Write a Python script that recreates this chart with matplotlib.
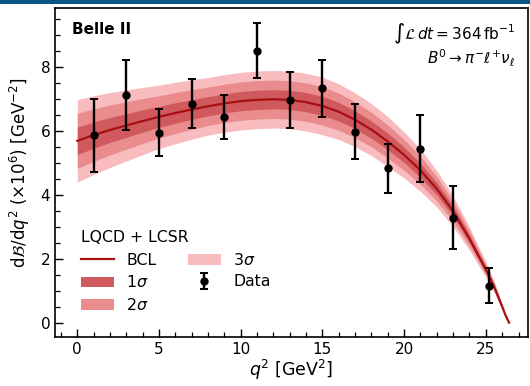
import numpy as np
import matplotlib
matplotlib.use("Agg")
import matplotlib.pyplot as plt
from matplotlib.patches import Rectangle

# measured partial branching fractions, dB/dq^2 in units of 1e-6 GeV^-2
q2_data = [1.0, 3.0, 5.0, 7.0, 9.0, 11.0, 13.0, 15.0, 17.0, 19.0, 21.0, 23.0, 25.2]
dbf_data = [5.85, 7.12, 5.94, 6.84, 6.43, 8.50, 6.96, 7.32, 5.96, 4.82, 5.44, 3.28, 1.16]
dbf_err = [1.15, 1.10, 0.72, 0.76, 0.68, 0.85, 0.88, 0.90, 0.86, 0.77, 1.04, 0.98, 0.54]

# BCL fit (LQCD + LCSR) central value and 1 sigma half width
q2_fit = [0, 1, 2, 3, 4, 5, 6, 7, 8, 9, 10, 11, 12, 13, 14, 15, 16, 17, 18,
          19, 20, 21, 22, 23, 24, 25, 25.5, 26, 26.2, 26.42]
dbf_fit = [5.68, 5.86, 6.02, 6.16, 6.30, 6.43, 6.55, 6.66, 6.76, 6.85, 6.92,
           6.96, 6.98, 6.96, 6.89, 6.77, 6.59, 6.34, 6.03, 5.66, 5.24, 4.76,
           4.18, 3.48, 2.62, 1.66, 1.13, 0.50, 0.24, 0.0]
sig_fit = [0.43, 0.41, 0.39, 0.37, 0.35, 0.33, 0.32, 0.31, 0.30, 0.30, 0.30,
           0.30, 0.30, 0.30, 0.30, 0.30, 0.29, 0.28, 0.27, 0.26, 0.24, 0.22,
           0.19, 0.16, 0.12, 0.08, 0.06, 0.03, 0.015, 0.0]

x = np.array(q2_fit)
y = np.array(dbf_fit)
s = np.array(sig_fit)

fig = plt.figure(figsize=(5.3, 3.86), dpi=100)
ax = fig.add_axes([55 / 530, 49 / 386, 473 / 530, 329 / 386])

# header strip
fig.patches.append(Rectangle((0, 382 / 386), 1, 4 / 386, transform=fig.transFigure,
                             facecolor="#0b5585", edgecolor="none", zorder=0))

b3 = ax.fill_between(x, y - 3 * s, y + 3 * s, color="#f8bcbf", lw=0)
b2 = ax.fill_between(x, y - 2 * s, y + 2 * s, color="#ea8c8e", lw=0)
b1 = ax.fill_between(x, y - s, y + s, color="#d0595d", lw=0)
ln, = ax.plot(x, y, color="#a80f12", lw=1.6)

eb = ax.errorbar(q2_data, dbf_data, yerr=dbf_err, fmt="o", color="black", ms=5,
                 elinewidth=1.7, capsize=3, capthick=1.4)

ax.set_xlim(-1.365, 27.58)
ax.set_ylim(-0.447, 9.83)
ax.set_xticks([0, 5, 10, 15, 20, 25])
ax.set_xticks(np.arange(-1, 28, 1), minor=True)
ax.set_yticks([0, 2, 4, 6, 8])
ax.set_yticks(np.arange(0, 10, 0.5), minor=True)
ax.tick_params(which="both", direction="in", labelsize=11)
ax.tick_params(which="major", length=6, width=1.0)
ax.tick_params(which="minor", length=3.5, width=0.9)
for sp in ax.spines.values():
    sp.set_linewidth(1.2)

ax.set_xlabel(r"$q^2$ [GeV$^2$]", fontsize=12.5, labelpad=1)
ax.set_ylabel(r"d$\mathcal{B}$/d$q^2$ ($\times 10^6$) [GeV$^{-2}$]", fontsize=12, labelpad=6)

ax.text(0.036, 0.935, "Belle II", transform=ax.transAxes, fontsize=11,
        fontweight="bold", va="center", ha="left")
ax.text(0.972, 0.92, r"$\int\mathcal{L}\,dt = 364\,\mathrm{fb}^{-1}$", transform=ax.transAxes,
        fontsize=11, ha="right", va="center")
ax.text(0.972, 0.848, r"$B^0 \rightarrow \pi^{-}\ell^{+}\nu_{\ell}$", transform=ax.transAxes,
        fontsize=11, ha="right", va="center")

leg = ax.legend([ln, b1, b2, b3, eb], ["BCL", r"$1\sigma$", r"$2\sigma$", r"$3\sigma$", "Data"],
                title="LQCD + LCSR", ncol=2, loc="lower left", bbox_to_anchor=(0.025, 0.03),
                frameon=False, fontsize=11.3, title_fontsize=11.3, handlelength=2.1,
                handleheight=0.65, labelspacing=0.42, columnspacing=2.0, alignment="left")

fig.savefig("out.png", dpi=100)
